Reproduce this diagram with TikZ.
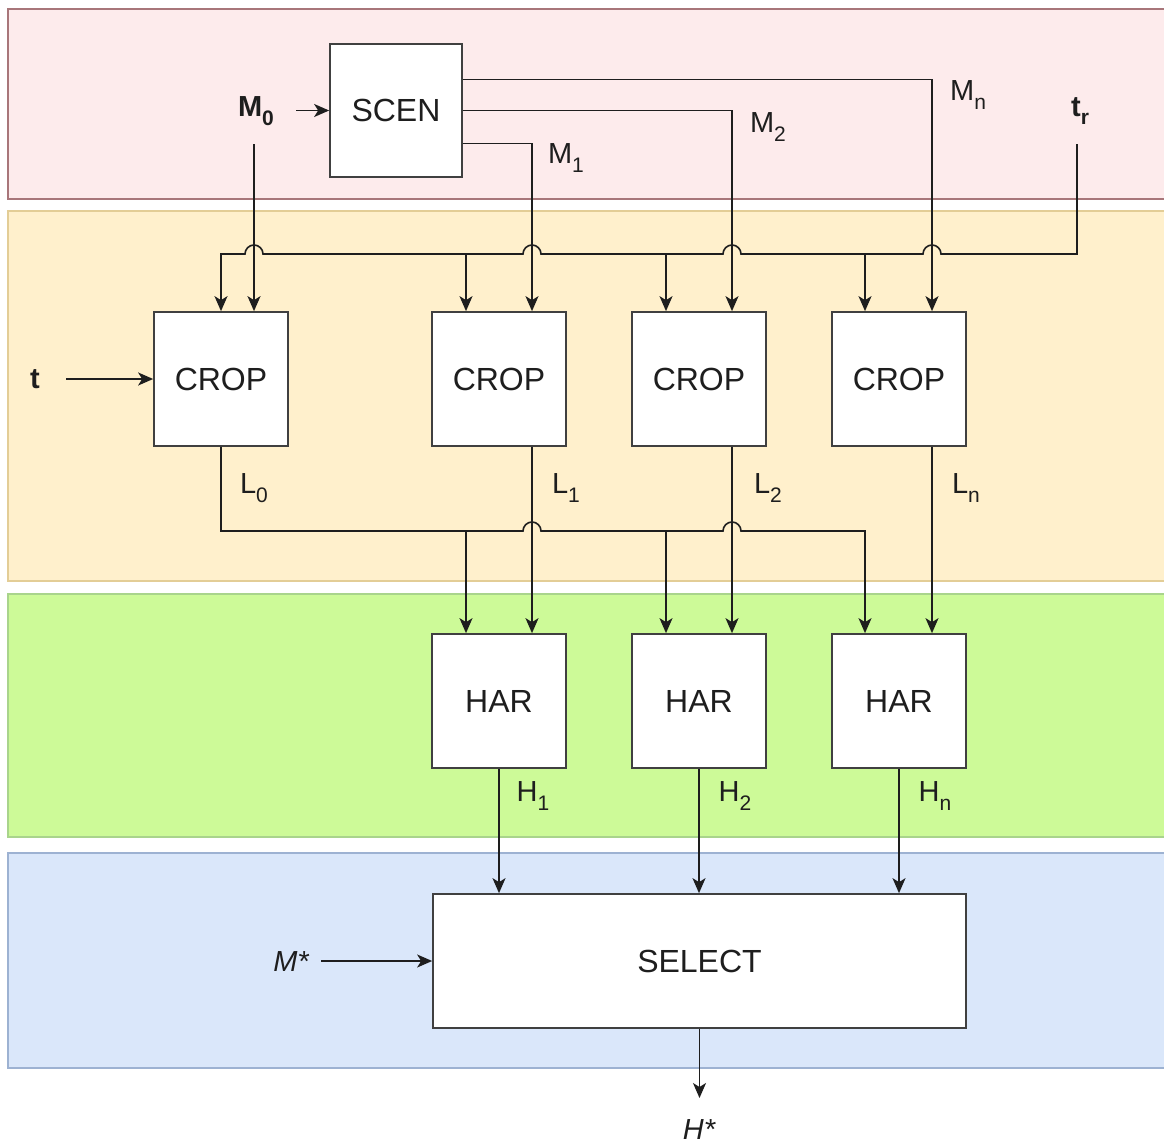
\documentclass[tikz,border=0pt]{standalone}
\usepackage{fontspec}
\setmainfont{Liberation Sans}
\usetikzlibrary{arrows.meta}

\definecolor{pinkfill}{HTML}{FDEBEC}
\definecolor{pinkline}{HTML}{A8767A}
\definecolor{orangefill}{HTML}{FFF0CC}
\definecolor{orangeline}{HTML}{E3CD96}
\definecolor{greenfill}{HTML}{CDFA98}
\definecolor{greenline}{HTML}{A9D48C}
\definecolor{bluefill}{HTML}{DAE7FA}
\definecolor{blueline}{HTML}{9DB2D2}
\definecolor{ink}{HTML}{1E1E1E}

% lowered subscript in the label font
\newcommand\lsub[1]{\raisebox{-0.3em}{\fontsize{21}{21}\selectfont #1}}

\tikzset{
  band/.style={line width=1.2pt},
  block/.style={draw=ink!85, fill=white, line width=1.7pt, inner sep=0pt,
    font=\fontsize{32}{36}\selectfont, text=ink},
  cropbox/.style={block, minimum width=134pt, minimum height=134pt},
  selbox/.style={block, minimum width=533pt, minimum height=134pt},
  lbl/.style={inner sep=0pt, font=\fontsize{29}{32}\selectfont, text=ink},
  wire/.style={draw=ink, line width=1.6pt},
  arr/.style={wire, -{Stealth[length=15pt,width=13pt,inset=4pt]}},
}

\begin{document}
\begin{tikzpicture}[x=1pt,y=-1pt]
\useasboundingbox (0,0) rectangle (1164,1145);
\fill[white] (0,0) rectangle (1164,1145);

% stage bands
\draw[band, fill=pinkfill, draw=pinkline] (8,9) rectangle (1180,199);
\draw[band, fill=orangefill, draw=orangeline] (8,211) rectangle (1180,581);
\draw[band, fill=greenfill, draw=greenline] (8,594) rectangle (1180,837);
\draw[band, fill=bluefill, draw=blueline] (8,853) rectangle (1180,1068);

% blocks
\node[cropbox, minimum width=132pt, minimum height=133pt] (scen) at (396,110.5) {SCEN};
\node[cropbox] (crop0) at (221,379) {CROP};
\node[cropbox] (crop1) at (499,379) {CROP};
\node[cropbox] (crop2) at (699,379) {CROP};
\node[cropbox] (crop3) at (899,379) {CROP};
\node[cropbox] (har1) at (499,701) {HAR};
\node[cropbox] (har2) at (699,701) {HAR};
\node[cropbox] (har3) at (899,701) {HAR};
\node[selbox] (sel) at (699.5,961) {SELECT};

% inputs and outputs
\node[lbl, font=\fontsize{29}{32}\selectfont\bfseries] (m0) at (256,111) {M\lsub{0}};
\node[lbl, font=\fontsize{29}{32}\selectfont\bfseries] (tr) at (1080,111) {t\lsub{r}};
\node[lbl, font=\fontsize{29}{32}\selectfont\bfseries] (t) at (35,379) {t};
\node[lbl, font=\fontsize{29}{32}\selectfont\itshape] (mstar) at (291,962) {M*};
\node[lbl, font=\fontsize{29}{32}\selectfont\itshape] (hstar) at (699,1130) {H*};

% signal labels
\node[lbl] (lm1) at (566,158) {M\lsub{1}};
\node[lbl] (lm2) at (768,127) {M\lsub{2}};
\node[lbl] (lmn) at (968,95) {M\lsub{n}};
\node[lbl] (ll0) at (254,488) {L\lsub{0}};
\node[lbl] (ll1) at (566,488) {L\lsub{1}};
\node[lbl] (ll2) at (768,488) {L\lsub{2}};
\node[lbl] (lln) at (966,488) {L\lsub{n}};
\node[lbl] (lh1) at (533,796) {H\lsub{1}};
\node[lbl] (lh2) at (735,796) {H\lsub{2}};
\node[lbl] (lhn) at (935,796) {H\lsub{n}};

% free ends of the connectors
\coordinate (m0out) at (296,110.5);
\coordinate (m0down) at (254,144);
\coordinate (trdown) at (1077,144);
\coordinate (tout) at (66,379);
\coordinate (mstarout) at (321,961);
\coordinate (hstartip) at (699.5,1098);

% M0 into SCEN and down to the first CROP
\draw[arr] (m0out) -- (scen.west);
\draw[arr] (m0down) -- ([xshift=33pt]crop0.north);

% SCEN outputs
\draw[arr] ([yshift=-33pt]scen.east) -| ([xshift=33pt]crop1.north);
\draw[arr] (scen.east) -| ([xshift=33pt]crop2.north);
\draw[arr] ([yshift=31pt]scen.east) -| ([xshift=33pt]crop3.north);

% t_r bus with line hops
\draw[arr] (trdown) -- (1077,254) -- (941,254)
  arc[start angle=0,end angle=180,radius=9pt] -- (741,254)
  arc[start angle=0,end angle=180,radius=9pt] -- (541,254)
  arc[start angle=0,end angle=180,radius=9pt] -- (263,254)
  arc[start angle=0,end angle=180,radius=9pt] -- (221,254)
  -- (crop0.north);
\draw[arr] (466,254) -- ([xshift=-33pt]crop1.north);
\draw[arr] (666,254) -- ([xshift=-33pt]crop2.north);
\draw[arr] (865,254) -- ([xshift=-34pt]crop3.north);

% t into the first CROP
\draw[arr] (tout) -- (crop0.west);

% L0 bus with line hops
\draw[arr] (crop0.south) -- (221,531) -- (523,531)
  arc[start angle=180,end angle=0,radius=9pt] -- (723,531)
  arc[start angle=180,end angle=0,radius=9pt] -- (865,531)
  -- ([xshift=-34pt]har3.north);
\draw[arr] (466,531) -- ([xshift=-33pt]har1.north);
\draw[arr] (666,531) -- ([xshift=-33pt]har2.north);

% L1..Ln straight down
\draw[arr] ([xshift=33pt]crop1.south) -- ([xshift=33pt]har1.north);
\draw[arr] ([xshift=33pt]crop2.south) -- ([xshift=33pt]har2.north);
\draw[arr] ([xshift=33pt]crop3.south) -- ([xshift=33pt]har3.north);

% HAR outputs into SELECT
\draw[arr] (har1.south) -- (har1.south |- sel.north);
\draw[arr] (har2.south) -- (har2.south |- sel.north);
\draw[arr] (har3.south) -- (har3.south |- sel.north);

% M* in, H* out
\draw[arr] (mstarout) -- (sel.west);
\draw[arr] (sel.south) -- (hstartip);
\end{tikzpicture}
\end{document}
